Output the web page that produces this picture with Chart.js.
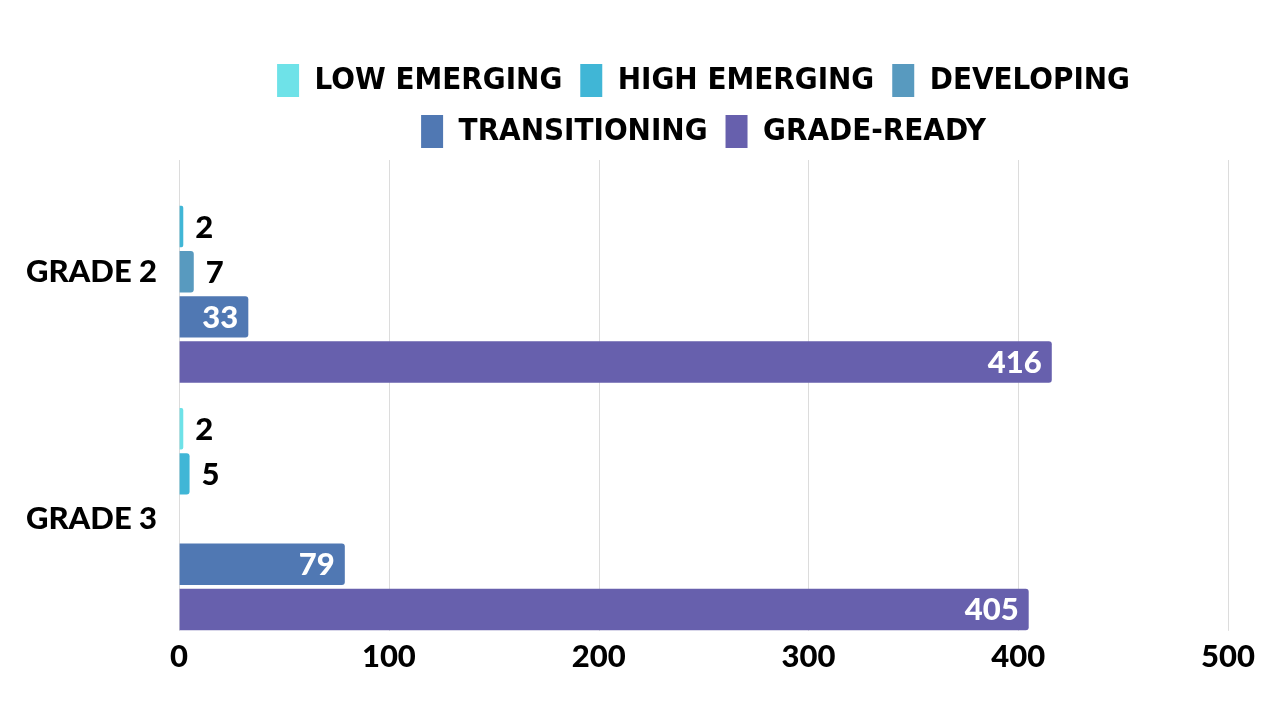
<!DOCTYPE html>
<html>
<head>
<meta charset="utf-8">
<script src="https://cdn.jsdelivr.net/npm/chart.js@4/dist/chart.umd.min.js"></script>
<style>
  html, body { margin: 0; padding: 0; background: #fff; }
  #wrap { width: 1280px; height: 720px; position: relative; }
</style>
</head>
<body>
<div id="wrap"><canvas id="chart"></canvas></div>
<script>
// categories and series
const categories = ['GRADE 2', 'GRADE 3'];
const seriesNames = ['LOW EMERGING', 'HIGH EMERGING', 'DEVELOPING', 'TRANSITIONING', 'GRADE-READY'];
const lowEmerging = [null, 2];
const highEmerging = [2, 5];
const developing = [7, null];
const transitioning = [33, 79];
const gradeReady = [416, 405];
const xMin = 0;
const xMax = 500;
const xStep = 100;

const seriesColors = ['#6ee2e8', '#40b6d6', '#589abf', '#5078b3', '#6760ad'];
const seriesValues = [lowEmerging, highEmerging, developing, transitioning, gradeReady];

const tickFont = "Lato, 'DejaVu Sans', sans-serif";
const legendFont = "'DejaVu Sans Condensed', 'Liberation Sans Narrow', sans-serif";
const gridTopInset = 12;   // grid stops short of the outer category padding
const gridBottomInset = 12;

// value at the end of each bar: white inside when it fits, black outside otherwise
const valueLabels = {
  id: 'valueLabels',
  afterDatasetsDraw(chart) {
    const ctx = chart.ctx;
    ctx.save();
    ctx.font = '900 31px ' + tickFont;
    ctx.textBaseline = 'middle';
    chart.data.datasets.forEach((ds, i) => {
      const meta = chart.getDatasetMeta(i);
      meta.data.forEach((bar, j) => {
        const v = ds.data[j];
        if (v === null || v === undefined) return;
        const txt = String(v);
        const w = ctx.measureText(txt).width;
        const len = bar.x - bar.base;
        if (len > w + 22) {
          ctx.fillStyle = '#ffffff';
          ctx.textAlign = 'right';
          ctx.fillText(txt, bar.x - 10, bar.y + 1);
        } else {
          ctx.fillStyle = '#000000';
          ctx.textAlign = 'left';
          ctx.fillText(txt, bar.x + 12, bar.y + 1);
        }
      });
    });
    ctx.restore();
  }
};

// vertical grid lines at the x ticks, a little shorter than the plot area
const shortGrid = {
  id: 'shortGrid',
  beforeDatasetsDraw(chart) {
    const ctx = chart.ctx;
    const xs = chart.scales.x;
    const area = chart.chartArea;
    ctx.save();
    ctx.strokeStyle = '#dcdcdc';
    ctx.lineWidth = 1;
    xs.ticks.forEach((t) => {
      const px = Math.round(xs.getPixelForValue(t.value)) + 0.5;
      ctx.beginPath();
      ctx.moveTo(px, area.top + gridTopInset);
      ctx.lineTo(px, area.bottom - gridBottomInset);
      ctx.stroke();
    });
    ctx.restore();
  }
};

// legend wraps after three items and sits centred over the plot, like the original
const legendWrap = {
  id: 'legendWrap',
  beforeLayout(chart) {
    const lg = chart.legend;
    if (!lg || lg._wrapped) return;
    lg._wrapped = true;
    const fitRows = lg._fitRows;
    lg._fitRows = function (...args) {
      const m = this.maxWidth;
      this.maxWidth = 900;
      const h = fitRows.apply(this, args);
      this.maxWidth = m;
      return h;
    };
    const fit = lg.fit;
    lg.fit = function () {
      fit.call(this);
      this.height -= 10;
    };
  },
  afterLayout(chart) {
    const lg = chart.legend;
    if (!lg) return;
    lg.left = chart.chartArea.left;
    lg.right = chart.chartArea.right;
    lg.width = lg.right - lg.left;
  }
};

const datasets = seriesNames.map((name, i) => ({
  label: name,
  data: seriesValues[i],
  backgroundColor: seriesColors[i],
  borderWidth: 0,
  borderRadius: 3,
  categoryPercentage: 0.913,
  barPercentage: 0.916
}));

new Chart(document.getElementById('chart'), {
  type: 'bar',
  data: { labels: categories, datasets },
  plugins: [shortGrid, valueLabels, legendWrap],
  options: {
    indexAxis: 'y',
    responsive: true,
    maintainAspectRatio: false,
    animation: false,
    layout: { padding: { top: 46, left: 4, right: 52, bottom: 48 } },
    scales: {
      x: {
        min: xMin,
        max: xMax,
        ticks: {
          stepSize: xStep,
          padding: -4,
          color: '#000',
          font: { family: tickFont, size: 31, weight: '900' }
        },
        grid: { display: true, drawOnChartArea: false, drawTicks: false },
        border: { display: false }
      },
      y: {
        ticks: {
          padding: 22,
          color: '#000',
          font: { family: tickFont, size: 31, weight: '900' }
        },
        grid: { display: false, drawTicks: false },
        border: { display: false }
      }
    },
    plugins: {
      legend: {
        position: 'top',
        align: 'center',
        labels: {
          boxWidth: 22,
          boxHeight: 33,
          padding: 18,
          color: '#000',
          font: { family: legendFont, size: 31, weight: 'bold' }
        }
      },
      tooltip: { enabled: false }
    }
  }
});
</script>
</body>
</html>
